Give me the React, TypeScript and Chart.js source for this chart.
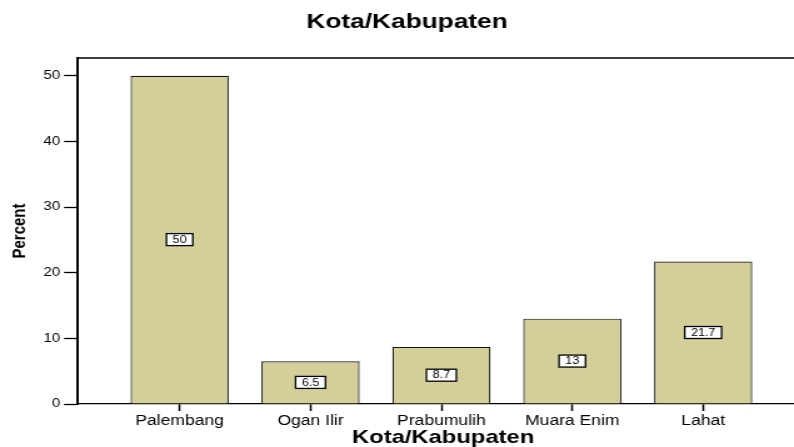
import React, { useEffect, useRef } from 'react';
import { Chart, registerables } from 'chart.js';

Chart.register(...registerables);

const CHART_TITLE = 'Kota/Kabupaten';
const X_TITLE = 'Kota/Kabupaten';
const Y_TITLE = 'Percent';
const CATEGORIES = ['Palembang', 'Ogan Ilir', 'Prabumulih', 'Muara Enim', 'Lahat'];
const PERCENTS = [50, 6.5, 8.7, 13, 21.7];
const Y_TICKS = [0, 10, 20, 30, 40, 50];

const W = 794;
const H = 447;
const SX = 1.25; // horizontal stretch of the picture
const CW = Math.round(W / SX);

const FONT = "'Liberation Sans', Arial, Helvetica, sans-serif";

const valueLabels = {
  id: 'valueLabels',
  afterDatasetsDraw(chart: any) {
    const ctx = chart.ctx;
    const meta = chart.getDatasetMeta(0);
    ctx.save();
    ctx.font = `10px ${FONT}`;
    ctx.textAlign = 'center';
    ctx.textBaseline = 'middle';
    meta.data.forEach((bar: any, i: number) => {
      const txt = String(PERCENTS[i]);
      const cx = bar.x;
      const cy = (bar.y + bar.base) / 2;
      const tw = ctx.measureText(txt).width;
      const bw = tw + 10;
      const bh = 12;
      ctx.fillStyle = '#ffffff';
      ctx.fillRect(cx - bw / 2, cy - bh / 2, bw, bh);
      ctx.lineWidth = 1.3;
      ctx.strokeStyle = '#000000';
      ctx.strokeRect(cx - bw / 2, cy - bh / 2, bw, bh);
      ctx.fillStyle = '#000000';
      ctx.fillText(txt, cx, cy + 0.5);
    });
    ctx.restore();
  },
};

const frameAndTitles = {
  id: 'frameAndTitles',
  afterDraw(chart: any) {
    const { ctx, chartArea } = chart;
    ctx.save();
    ctx.strokeStyle = '#000000';
    ctx.lineWidth = 1.3;
    ctx.beginPath();
    ctx.moveTo(chartArea.left, chartArea.top);
    ctx.lineTo(chartArea.right, chartArea.top);
    ctx.stroke();

    ctx.fillStyle = '#000000';
    ctx.textAlign = 'center';
    ctx.textBaseline = 'alphabetic';
    ctx.font = `bold 21px ${FONT}`;
    ctx.fillText(CHART_TITLE, 407 / SX, 28);
    ctx.font = `bold 19px ${FONT}`;
    ctx.fillText(X_TITLE, 443 / SX, 443);
    ctx.restore();
  },
};

export default function App() {
  const ref = useRef<HTMLCanvasElement | null>(null);

  useEffect(() => {
    if (!ref.current) return;
    const chart = new Chart(ref.current, {
      type: 'bar',
      data: {
        datasets: [
          {
            data: PERCENTS.map((v, i) => ({ x: i, y: v })),
            backgroundColor: '#d4cf99',
            borderColor: '#111111',
            borderWidth: 1.2,
            barPercentage: 0.75,
            categoryPercentage: 1,
          },
        ],
      },
      options: {
        responsive: false,
        maintainAspectRatio: false,
        animation: false,
        devicePixelRatio: 1,
        layout: { padding: { top: 58, left: 0, right: 0, bottom: 0 } },
        plugins: {
          legend: { display: false },
          tooltip: { enabled: false },
          title: { display: false },
        },
        scales: {
          x: {
            type: 'linear',
            offset: false,
            min: -0.784,
            max: 4.694,
            afterBuildTicks: (s: any) => {
              s.ticks = CATEGORIES.map((_, i) => ({ value: i }));
            },
            afterFit: (s: any) => {
              s.height = H - 404;
            },
            ticks: {
              callback: (v: any) => CATEGORIES[v] ?? '',
              autoSkip: false,
              maxRotation: 0,
              color: '#000000',
              font: { family: FONT, size: 14 },
              padding: 2,
            },
            grid: {
              offset: false,
              drawOnChartArea: false,
              drawTicks: true,
              tickLength: 7,
              tickColor: '#000000',
              tickWidth: 1.5,
            },
            border: { display: true, color: '#000000', width: 1.3 },
            title: { display: false },
          },
          y: {
            type: 'linear',
            min: 0,
            max: 52.7,
            afterBuildTicks: (s: any) => {
              s.ticks = Y_TICKS.map((v) => ({ value: v }));
            },
            afterFit: (s: any) => {
              s.width = 77 / SX;
            },
            ticks: {
              color: '#000000',
              font: { family: FONT, size: 12 },
              padding: 3,
            },
            grid: {
              drawOnChartArea: false,
              drawTicks: true,
              tickLength: 10.4,
              tickColor: '#000000',
              tickWidth: 1.3,
            },
            border: { display: true, color: '#000000', width: 2 },
            title: {
              display: true,
              text: Y_TITLE,
              color: '#000000',
              font: { family: FONT, size: 15, weight: 'bold' },
              padding: { top: 6.6, bottom: 0 },
            },
          },
        },
      },
      plugins: [valueLabels, frameAndTitles],
    } as any);
    return () => chart.destroy();
  }, []);

  return (
    <div
      style={{
        position: 'fixed',
        left: 0,
        top: 0,
        width: W,
        height: H,
        background: '#ffffff',
        overflow: 'hidden',
      }}
    >
      <canvas
        ref={ref}
        width={CW}
        height={H}
        style={{ width: `${W}px`, height: `${H}px`, display: 'block' }}
      />
    </div>
  );
}
